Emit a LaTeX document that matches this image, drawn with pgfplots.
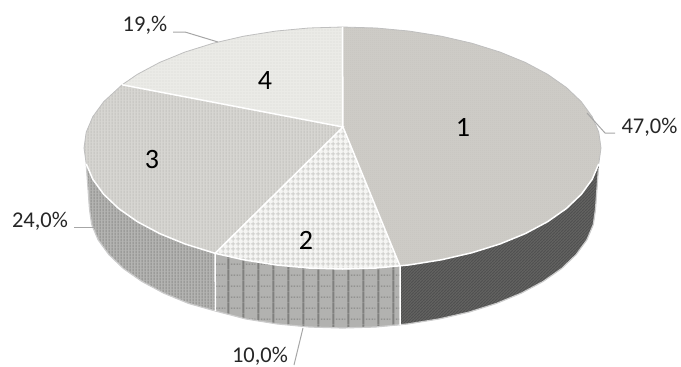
\documentclass[border=0pt]{standalone}
\usepackage{fontspec}
\setmainfont{Carlito}
\usepackage{pgfplots}
\pgfplotsset{compat=1.18}
\usetikzlibrary{patterns}
\definecolor{tA}{HTML}{CDCBC6}\definecolor{tAp}{HTML}{C5C3BE}
\definecolor{tB}{HTML}{F5F5F3}\definecolor{tBp}{HTML}{CFCFCC}
\definecolor{tC}{HTML}{D7D6D2}\definecolor{tCp}{HTML}{C4C3BF}
\definecolor{tD}{HTML}{EBEBE7}\definecolor{tDp}{HTML}{DFDFDB}
\definecolor{sA}{HTML}{626260}\definecolor{sAp}{HTML}{505050}
\definecolor{sB}{HTML}{B2B2B0}\definecolor{sBp}{HTML}{80807E}
\definecolor{sC}{HTML}{B4B4B2}\definecolor{sCp}{HTML}{8E8E8C}
\pgfdeclarepatternformonly{pgrid}{\pgfqpoint{0pt}{0pt}}{\pgfqpoint{4.6pt}{4.6pt}}{\pgfqpoint{4.6pt}{4.6pt}}{%
  \pgfsetlinewidth{1.1pt}
  \pgfpathmoveto{\pgfqpoint{0pt}{2.3pt}}\pgfpathlineto{\pgfqpoint{4.6pt}{2.3pt}}
  \pgfpathmoveto{\pgfqpoint{2.3pt}{0pt}}\pgfpathlineto{\pgfqpoint{2.3pt}{4.6pt}}\pgfusepath{stroke}}
\pgfdeclarepatternformonly{pvert}{\pgfqpoint{0pt}{0pt}}{\pgfqpoint{3pt}{3pt}}{\pgfqpoint{3pt}{3pt}}{%
  \pgfsetlinewidth{1.1pt}
  \pgfpathmoveto{\pgfqpoint{1.5pt}{0pt}}\pgfpathlineto{\pgfqpoint{1.5pt}{3pt}}\pgfusepath{stroke}}
\pgfdeclarepatternformonly{phoriz}{\pgfqpoint{0pt}{0pt}}{\pgfqpoint{2.5pt}{2.5pt}}{\pgfqpoint{2.5pt}{2.5pt}}{%
  \pgfsetlinewidth{.7pt}
  \pgfpathmoveto{\pgfqpoint{0pt}{1.2pt}}\pgfpathlineto{\pgfqpoint{2.5pt}{1.2pt}}\pgfusepath{stroke}}
\pgfdeclarepatternformonly{pdiag}{\pgfqpoint{0pt}{0pt}}{\pgfqpoint{3pt}{3pt}}{\pgfqpoint{3pt}{3pt}}{%
  \pgfsetlinewidth{1pt}
  \pgfpathmoveto{\pgfqpoint{-.5pt}{-.5pt}}\pgfpathlineto{\pgfqpoint{3.5pt}{3.5pt}}\pgfusepath{stroke}}
\pgfdeclarepatternformonly{pdots}{\pgfqpoint{0pt}{0pt}}{\pgfqpoint{2pt}{2pt}}{\pgfqpoint{2pt}{2pt}}{%
  \pgfpathrectangle{\pgfqpoint{0pt}{0pt}}{\pgfqpoint{1pt}{1pt}}\pgfusepath{fill}}
\pgfdeclarepatternformonly{pcells}{\pgfqpoint{0pt}{0pt}}{\pgfqpoint{15.2pt}{10.8pt}}{\pgfqpoint{15.2pt}{10.8pt}}{%
  \pgfsetlinewidth{2.2pt}
  \pgfpathmoveto{\pgfqpoint{1.5pt}{0pt}}\pgfpathlineto{\pgfqpoint{1.5pt}{10.8pt}}\pgfusepath{stroke}
  \pgfsetlinewidth{1pt}
  \pgfsetdash{{1.6pt}{1.4pt}}{0pt}
  \pgfpathmoveto{\pgfqpoint{4pt}{5pt}}\pgfpathlineto{\pgfqpoint{14pt}{5pt}}\pgfusepath{stroke}}
\tikzset{big/.style={font=\fontsize{28}{30}\selectfont,text=black,inner sep=0pt},
  lab/.style={font=\fontsize{22.5}{24}\selectfont,text=black!85,inner sep=0pt}}
\begin{document}
\begin{tikzpicture}
\clip (0,0) rectangle (681pt,367pt);
\begin{axis}[at={(0,0)},anchor=south west,scale only axis,width=681pt,height=367pt,
  xmin=0,xmax=681,ymin=0,ymax=367,y dir=reverse,hide axis,clip=false]
% side 1
\addplot[draw=none,fill=sA,postaction={pattern=pdiag,pattern color=sAp}] coordinates {
 (598.8,163.8)(592.2,179.3)(581.3,194.3)(566.4,208.5)(547.6,221.7)(525.3,233.6)(499.9,244.0)(471.75,252.8)(441.4,259.8)(409.4,264.9)(400,266)
 (400,325)(408,323.9)(439.3,318.9)(469,312.1)(496.5,303.4)(521.4,293.1)(543.2,281.4)(561.6,268.5)(576.2,254.5)(586.9,239.8)(593.3,224.5)(595.5,209)} -- cycle;
% side 2
\addplot[draw=none,fill=sB,postaction={pattern=pcells,pattern color=sBp}] coordinates {
 (400,266)(376.2,268)(342.5,269)(308.8,268)(275.6,264.9)(243.6,259.8)(215,253.3)
 (215.5,311)(245.7,318.9)(277,323.9)(309.5,327)(342.5,328)(375.5,327)(400,325)} -- cycle;
% side 3
\addplot[draw=none,fill=sC,postaction={pattern=pvert,pattern color=sCp}] coordinates {
 (215,253.3)(185.1,244)(159.7,233.6)(137.4,221.7)(118.6,208.5)(103.7,194.3)(92.8,179.3)(86.2,163.8)
 (89.5,209)(91.7,224.5)(98.1,239.8)(108.8,254.5)(123.4,268.5)(141.8,281.4)(163.6,293.1)(188.5,303.4)(215.5,311)} -- cycle;
% bottom outline
\addplot[color=black!20,line width=1.2pt] coordinates {
 (598.3,170)(595.5,209)(593.3,224.5)(586.9,239.8)(576.2,254.5)(561.6,268.5)(543.2,281.4)(521.4,293.1)(496.5,303.4)(469,312.1)(439.3,318.9)(408,323.9)(375.5,327)(342.5,328)(309.5,327)(277,323.9)(245.7,318.9)(215.5,311)(188.5,303.4)(163.6,293.1)(141.8,281.4)(123.4,268.5)(108.8,254.5)(98.1,239.8)(91.7,224.5)(89.5,209)(86.2,163.8)};
% top 1
\addplot[draw=none,fill=tA,postaction={pattern=pdots,pattern color=tAp}] coordinates {
 (343,127)(342.5,27)(376.2,28)(409.4,31.1)(441.4,36.2)(471.75,43.2)(499.9,52)(525.3,62.4)(547.6,74.3)(566.4,87.5)(581.3,101.7)(592.2,116.7)(598.8,132.2)(601,148)(598.8,163.8)(592.2,179.3)(581.3,194.3)(566.4,208.5)(547.6,221.7)(525.3,233.6)(499.9,244)(471.75,252.8)(441.4,259.8)(409.4,264.9)(400,266)} -- cycle;
% top 2
\addplot[draw=none,fill=tB,postaction={pattern=pgrid,pattern color=tBp}] coordinates {
 (343,127)(400,266)(376.2,268)(342.5,269)(308.8,268)(275.6,264.9)(243.6,259.8)(215,253.3)} -- cycle;
% top 3
\addplot[draw=none,fill=tC,postaction={pattern=pvert,pattern color=tCp}] coordinates {
 (343,127)(215,253.3)(185.1,244)(159.7,233.6)(137.4,221.7)(118.6,208.5)(103.7,194.3)(92.8,179.3)(86.2,163.8)(84,148)(86.2,132.2)(92.8,116.7)(103.7,101.7)(122.1,84.8)} -- cycle;
% top 4
\addplot[draw=none,fill=tD,postaction={pattern=phoriz,pattern color=tDp}] coordinates {
 (343,127)(122.1,84.8)(137.4,74.3)(159.7,62.4)(185.1,52)(213.25,43.2)(243.6,36.2)(275.6,31.1)(308.8,28)(342.5,27)} -- cycle;
% upper rim
\addplot[color=black!25,line width=.8pt] coordinates {
 (86.2,163.8)(84,148)(86.2,132.2)(92.8,116.7)(103.7,101.7)(122.1,84.8)(137.4,74.3)(159.7,62.4)(185.1,52)(213.25,43.2)(243.6,36.2)(275.6,31.1)(308.8,28)(342.5,27)(376.2,28)(409.4,31.1)(441.4,36.2)(471.75,43.2)(499.9,52)(525.3,62.4)(547.6,74.3)(566.4,87.5)(581.3,101.7)(592.2,116.7)(598.8,132.2)(601,148)(598.8,163.8)};
% lower rim
\addplot[color=white,line width=1.5pt] coordinates {
 (598.8,163.8)(592.2,179.3)(581.3,194.3)(566.4,208.5)(547.6,221.7)(525.3,233.6)(499.9,244)(471.75,252.8)(441.4,259.8)(409.4,264.9)(376.2,268)(342.5,269)(308.8,268)(275.6,264.9)(243.6,259.8)(215,253.3)(185.1,244)(159.7,233.6)(137.4,221.7)(118.6,208.5)(103.7,194.3)(92.8,179.3)(86.2,163.8)};
% slice edges
\addplot[color=white,line width=1.5pt] coordinates {(342.5,27)(343,127)(400,266)(400,325)};
\addplot[color=white,line width=1.5pt] coordinates {(122.1,84.8)(343,127)(215,253.3)(215.5,311)};
% leader lines
\addplot[color=black!35,line width=1pt] coordinates {(587,113)(605,133)(615,133)};
\addplot[color=black!35,line width=1pt] coordinates {(173,32)(185,32)(218,42)};
\addplot[color=black!35,line width=1pt] coordinates {(74,227)(95,227)};
\addplot[color=black!35,line width=1pt] coordinates {(303,328)(294,365)};
% labels
\node[big] at (axis cs:463,127) {1};
\node[big] at (axis cs:306,240) {2};
\node[big] at (axis cs:152,160) {3};
\node[big] at (axis cs:265,81) {4};
\node[lab] at (axis cs:649.5,127) {47,0\%};
\node[lab] at (axis cs:145,25) {19,\%};
\node[lab] at (axis cs:40,221) {24,0\%};
\node[lab] at (axis cs:260,356.5) {10,0\%};
\end{axis}
\end{tikzpicture}
\end{document}
